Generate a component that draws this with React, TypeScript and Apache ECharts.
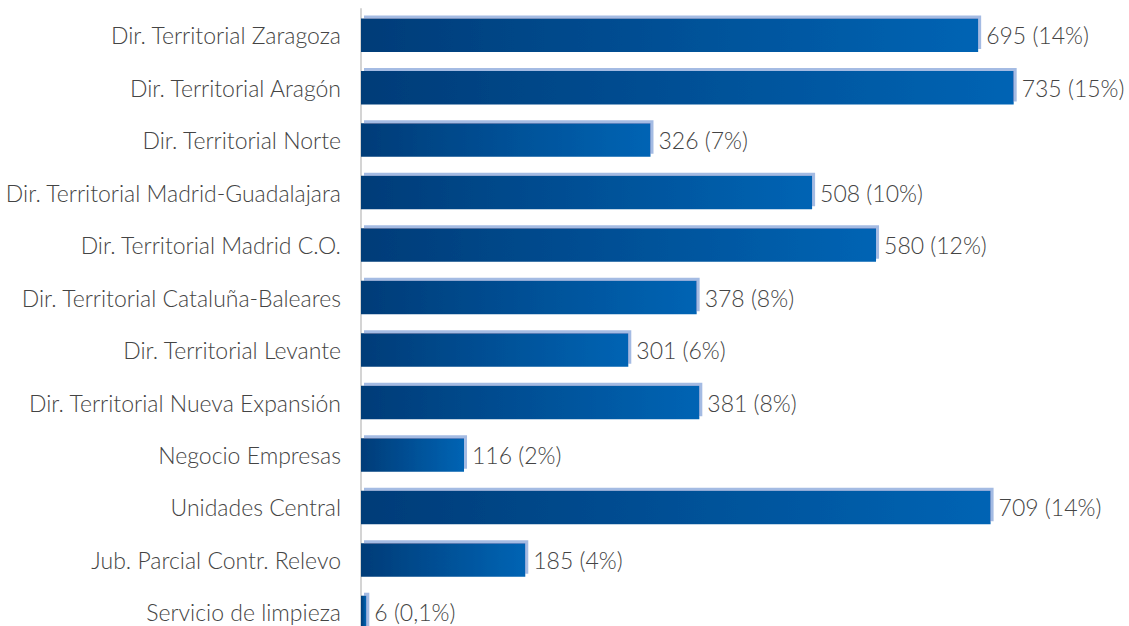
import React, { useEffect, useRef } from "react";
import * as echarts from "echarts";

const categories = [
  "Dir. Territorial Zaragoza",
  "Dir. Territorial Aragón",
  "Dir. Territorial Norte",
  "Dir. Territorial Madrid-Guadalajara",
  "Dir. Territorial Madrid C.O.",
  "Dir. Territorial Cataluña-Baleares",
  "Dir. Territorial Levante",
  "Dir. Territorial Nueva Expansión",
  "Negocio Empresas",
  "Unidades Central",
  "Jub. Parcial Contr. Relevo",
  "Servicio de limpieza",
];
const values = [695, 735, 326, 508, 580, 378, 301, 381, 116, 709, 185, 6];
const percents = ["14%", "15%", "7%", "10%", "12%", "8%", "6%", "8%", "2%", "14%", "4%", "0,1%"];

export default function App() {
  const ref = useRef<HTMLDivElement>(null);
  useEffect(() => {
    if (!ref.current) return;
    const chart = echarts.init(ref.current, null, { renderer: "svg" });
    const font = "'Lato Light', Lato";
    chart.setOption({
      animation: false,
      grid: { left: 361, top: 8.9, width: 754.8, height: 629.8, containLabel: false },
      xAxis: {
        type: "value",
        min: 0,
        max: 850,
        show: false,
        splitLine: { show: false },
      },
      yAxis: {
        type: "category",
        inverse: true,
        data: categories,
        axisLine: { show: true, lineStyle: { color: "#d4d4d4", width: 2 } },
        axisTick: { show: false },
        axisLabel: {
          margin: 20,
          color: "#444",
          fontFamily: font,
          fontWeight: 300,
          fontSize: 23,
          padding: [0, 0, 4, 0],
        },
      },
      series: [
        {
          type: "bar",
          data: values,
          barWidth: 33.5,
          itemStyle: {
            color: new echarts.graphic.LinearGradient(0, 0, 1, 0, [
              { offset: 0, color: "#003c78" },
              { offset: 1, color: "#0064b4" },
            ]),
            shadowColor: "#a4bbe3",
            shadowOffsetX: 3,
            shadowOffsetY: -3,
            shadowBlur: 0,
          },
          label: {
            show: true,
            position: "right",
            distance: 8,
            color: "#444",
            fontFamily: font,
            fontWeight: 300,
            fontSize: 23,
            padding: [0, 0, 4, 0],
            formatter: (p: any) => `${values[p.dataIndex]} (${percents[p.dataIndex]})`,
          },
        },
      ],
    });
    return () => chart.dispose();
  }, []);
  return (
    <div
      ref={ref}
      style={{ position: "fixed", left: 0, top: 0, width: 1129, height: 660, background: "#fff" }}
    />
  );
}
